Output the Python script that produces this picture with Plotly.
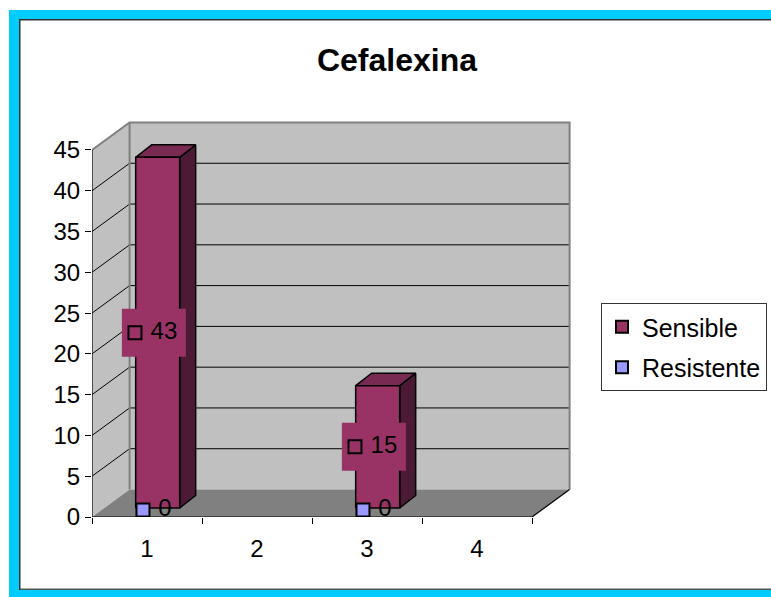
import plotly.graph_objects as go

# ---------------- data ----------------
title_text = "Cefalexina"
categories = [1, 2, 3, 4]
cat_labels = ["1", "2", "3", "4"]
sensible = [43, None, 15, None]
resistente = [0, None, 0, None]
y_ticks = [0, 5, 10, 15, 20, 25, 30, 35, 40, 45]

# ---------------- style / geometry constants ----------------
W, H = 771, 597
PL, PB = 92, 80                  # plot-area left / bottom margin (px)
PX_PER_CAT = 110.0
PX_PER_UNIT = 8.156
plot_w = W - PL
plot_h = H - PB
x_lo = 0.5
x_hi = x_lo + plot_w / PX_PER_CAT
y_hi = plot_h / PX_PER_UNIT

DX, DY = 37.6 / PX_PER_CAT, 27.5 / PX_PER_UNIT      # wall depth
BX, BY = 0.097, 9.0 / PX_PER_UNIT                    # bar plane offset
BW = 44.0 / PX_PER_CAT                               # bar width
BDX, BDY = 16.0 / PX_PER_CAT, 12.5 / PX_PER_UNIT     # bar depth

C_SENS = "#993366"
C_SENS_SIDE = "#4D1A35"
C_SENS_TOP = "#782A52"
C_RES = "#9999FF"
C_WALL = "#C0C0C0"
C_FLOOR = "#808080"
FONT = "Liberation Sans, Arial, sans-serif"

fig = go.Figure()


def poly(xs, ys, fill, line_color="black", line_width=1.5):
    fig.add_trace(go.Scatter(
        x=list(xs) + [xs[0]], y=list(ys) + [ys[0]], mode="lines",
        fill="toself", fillcolor=fill,
        line=dict(color=line_color, width=line_width),
        hoverinfo="skip", showlegend=False))


def seg(xs, ys, color="black", width=1):
    fig.add_trace(go.Scatter(x=xs, y=ys, mode="lines",
                             line=dict(color=color, width=width),
                             hoverinfo="skip", showlegend=False))


x0 = min(categories) - 0.5
x1 = max(categories) + 0.5
v0 = y_ticks[0]
v1 = y_ticks[-1]

# walls and floor
poly([x0, x0, x0 + DX, x0 + DX], [v0, v1, v1 + DY, v0 + DY], C_WALL, C_WALL, 0)
poly([x0 + DX, x1 + DX, x1 + DX, x0 + DX], [v0 + DY, v0 + DY, v1 + DY, v1 + DY], C_WALL, C_WALL, 0)
poly([x0, x1, x1 + DX, x0 + DX], [v0, v0, v0 + DY, v0 + DY], C_FLOOR, C_FLOOR, 0)

# gridlines on back wall and side wall
for v in y_ticks[1:-1]:
    seg([x0 + DX, x1 + DX], [v + DY, v + DY], "black", 1)
    seg([x0, x0 + DX], [v, v + DY], "black", 1)

# wall borders
seg([x0, x0 + DX, x1 + DX, x1 + DX], [v1, v1 + DY, v1 + DY, v0 + DY], C_FLOOR, 2)
seg([x0 + DX, x0 + DX], [v0 + DY, v1 + DY], C_FLOOR, 2)
seg([x1, x1 + DX], [v0, v0 + DY], "black", 1.2)

# bars
for c, v in zip(categories, sensible):
    if v is None:
        continue
    xl = c - BW / 2 + BX
    xr = xl + BW
    yb, yt = BY, BY + v
    poly([xr, xr + BDX, xr + BDX, xr], [yb, yb + BDY, yt + BDY, yt], C_SENS_SIDE)
    poly([xl, xr, xr + BDX, xl + BDX], [yt, yt, yt + BDY, yt + BDY], C_SENS_TOP)
    poly([xl, xr, xr, xl], [yb, yb, yt, yt], C_SENS)

# data label boxes for Sensible
LBW, LBH = 64.0 / PX_PER_CAT, 48.0 / PX_PER_UNIT
LOX = -3.8 / PX_PER_CAT
for c, v in zip(categories, sensible):
    if v is None:
        continue
    cx = c + BX + LOX
    cy = BY + v / 2
    poly([cx - LBW / 2, cx + LBW / 2, cx + LBW / 2, cx - LBW / 2],
         [cy - LBH / 2, cy - LBH / 2, cy + LBH / 2, cy + LBH / 2], C_SENS, C_SENS, 0)

# label keys (also legend entries)
s_idx = [i for i, v in enumerate(sensible) if v is not None]
r_idx = [i for i, v in enumerate(resistente) if v is not None]
KEY_S = -22.7 / PX_PER_CAT
KEY_R = -14.7 / PX_PER_CAT
TXT_S = 6.3 / PX_PER_CAT
TXT_R = 7.3 / PX_PER_CAT
RES_DY = -2.0 / PX_PER_UNIT

fig.add_trace(go.Scatter(
    x=[categories[i] + BX + KEY_S for i in s_idx],
    y=[BY + sensible[i] / 2 for i in s_idx],
    mode="markers", name="Sensible", legendgroup="s",
    marker=dict(symbol="square", size=13, color=C_SENS, line=dict(color="black", width=2)),
    hoverinfo="skip"))
fig.add_trace(go.Scatter(
    x=[categories[i] + BX + TXT_S for i in s_idx],
    y=[BY + sensible[i] / 2 for i in s_idx],
    mode="text", text=[str(sensible[i]) for i in s_idx],
    textposition="middle center", textfont=dict(size=24, color="black", family=FONT),
    showlegend=False, hoverinfo="skip"))

fig.add_trace(go.Scatter(
    x=[categories[i] + BX + KEY_R for i in r_idx],
    y=[BY + resistente[i] + RES_DY for i in r_idx],
    mode="markers", name="Resistente", legendgroup="r",
    marker=dict(symbol="square", size=13, color=C_RES, line=dict(color="black", width=2)),
    hoverinfo="skip"))
fig.add_trace(go.Scatter(
    x=[categories[i] + BX + TXT_R for i in r_idx],
    y=[BY + resistente[i] + RES_DY for i in r_idx],
    mode="text", text=[str(resistente[i]) for i in r_idx],
    textposition="middle center", textfont=dict(size=24, color="black", family=FONT),
    showlegend=False, hoverinfo="skip"))

# front axis lines
seg([x0, x0], [v0, v1], "black", 1.2)
seg([x0, x1], [v0, v0], "black", 1.2)


def px2paper_x(px):
    return (px - PL) / plot_w


def py2paper_y(py):
    return (plot_h - py) / plot_h


def band(xa, xb, ya, yb, color):
    return dict(type="rect", xref="paper", yref="paper", layer="below",
                x0=px2paper_x(xa), x1=px2paper_x(xb), y0=py2paper_y(ya), y1=py2paper_y(yb),
                line=dict(width=0), fillcolor=color)


CYAN = "#00CCFF"
shapes = [
    band(9, W, 10, 19, CYAN),          # top
    band(9, W, 590, H, CYAN),          # bottom
    band(9, 19, 10, H, CYAN),          # left
    band(19, W, 19, 20.5, "#333333"),  # inner top edge
    band(19, W, 588.5, 590, "#555555"),  # inner bottom edge
    band(19, 20.5, 19, 590, "#333333"),  # inner left edge
]

fig.update_layout(
    width=W, height=H,
    margin=dict(l=PL, r=0, t=0, b=PB, pad=0),
    paper_bgcolor="white", plot_bgcolor="rgba(0,0,0,0)",
    font=dict(family=FONT, size=24, color="black"),
    title=dict(text="<b>" + title_text + "</b>", font=dict(size=32, family=FONT, color="black"),
               xref="container", yref="container", x=397 / W, y=1 - 60 / H,
               xanchor="center", yanchor="middle"),
    showlegend=True,
    legend=dict(x=px2paper_x(601), y=py2paper_y(303), xanchor="left", yanchor="top",
                bordercolor="#333333", borderwidth=1, bgcolor="white",
                font=dict(size=25, family=FONT, color="black"),
                itemsizing="constant", tracegroupgap=5, traceorder="grouped"),
    xaxis=dict(range=[x_lo, x_hi], showgrid=False, zeroline=False, showline=False,
               tickmode="array", tickvals=categories, ticktext=cat_labels,
               ticks="outside", ticklen=0, tickfont=dict(size=24),
               ticklabelstandoff=10,
               minor=dict(tickmode="array", tickvals=[c - 0.5 for c in categories] + [x1],
                          ticks="outside", ticklen=6, tickcolor="black", tickwidth=1, showgrid=False),
               fixedrange=True),
    yaxis=dict(range=[0, y_hi], showgrid=False, zeroline=False, showline=False,
               tickmode="array", tickvals=y_ticks, ticks="outside", ticklen=6,
               tickcolor="black", tickwidth=1, tickfont=dict(size=24),
               fixedrange=True),
    shapes=shapes,
)

fig.write_html("out.html")
